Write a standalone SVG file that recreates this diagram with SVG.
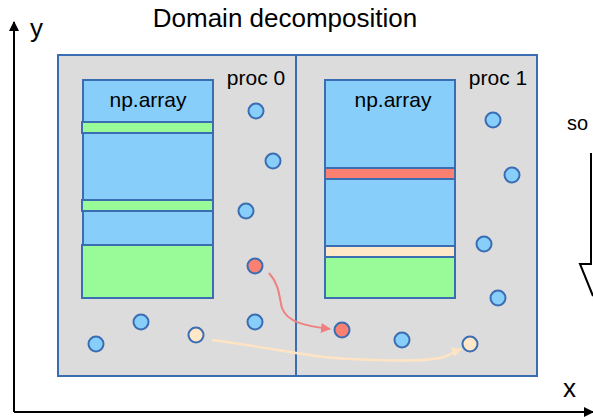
<svg xmlns="http://www.w3.org/2000/svg" width="593" height="417" viewBox="0 0 593 417">
<style>
text{font-family:"Liberation Sans",Arial,sans-serif;fill:#000}
.dom{fill:#dcdcdc;stroke:#3b6db3;stroke-width:2}
.arr{fill:#87cefa;stroke:#3b6db3;stroke-width:2}
.g{fill:#98fb98;stroke:#3b6db3;stroke-width:2}
.r{fill:#fa8072;stroke:#3b6db3;stroke-width:2}
.c{fill:#ffe8c8;stroke:#3b6db3;stroke-width:2}
.p{fill:#87cefa;stroke:#3b6db3;stroke-width:2}
.pr{fill:#fa8072;stroke:#3b6db3;stroke-width:2}
.pc{fill:#ffe8c8;stroke:#3b6db3;stroke-width:2}
.lbl{font-size:21px}
</style>
<defs>
<marker id="ah" markerWidth="10" markerHeight="10" refX="9" refY="5" orient="auto" markerUnits="userSpaceOnUse"><path d="M0,0 L10,5 L0,10 z" fill="#000"/></marker>
<marker id="ahr" markerWidth="10" markerHeight="10" refX="9" refY="5" orient="auto" markerUnits="userSpaceOnUse"><path d="M0,0 L10,5 L0,10 z" fill="#f08080"/></marker>
<marker id="ahc" markerWidth="10" markerHeight="10" refX="9" refY="5" orient="auto" markerUnits="userSpaceOnUse"><path d="M0,0 L10,5 L0,10 z" fill="#ffe4c4"/></marker>
</defs>
<g id="axes">
<line x1="14" y1="412" x2="14" y2="22" stroke="#000" stroke-width="2" marker-end="url(#ah)"/>
<line x1="14" y1="412" x2="593" y2="412" stroke="#000" stroke-width="2" marker-end="url(#ah)"/>
<text x="30" y="37" font-size="26">y</text>
<text x="563" y="397" font-size="26">x</text>
</g>
<text id="title" x="285" y="27" font-size="26" text-anchor="middle">Domain decomposition</text>
<g id="domain">
<rect class="dom" x="58" y="55" width="479" height="321"/>
<line x1="296" y1="55" x2="296" y2="376" stroke="#3b6db3" stroke-width="2"/>
</g>
<g id="proc0">
<text class="lbl" x="256" y="85" text-anchor="middle">proc 0</text>
<rect class="arr" x="83" y="80" width="130" height="218"/>
<text class="lbl" x="148" y="107" text-anchor="middle">np.array</text>
<rect class="g" x="82" y="122" width="131" height="11"/>
<rect class="g" x="82" y="200" width="131" height="11"/>
<rect class="g" x="82" y="245" width="131" height="53"/>
</g>
<g id="proc1">
<text class="lbl" x="498" y="85" text-anchor="middle">proc 1</text>
<rect class="arr" x="325" y="80" width="130" height="218"/>
<text class="lbl" x="393" y="107" text-anchor="middle">np.array</text>
<rect class="r" x="325" y="168" width="130" height="11"/>
<rect class="c" x="325" y="246" width="130" height="11"/>
<rect class="g" x="325" y="257" width="130" height="41"/>
</g>
<g id="particles">
<circle class="p" cx="256" cy="111" r="7.5"/>
<circle class="p" cx="273" cy="161" r="7.5"/>
<circle class="p" cx="246" cy="211" r="7.5"/>
<circle class="pr" cx="255" cy="266" r="7.5"/>
<circle class="p" cx="141" cy="322" r="7.5"/>
<circle class="p" cx="96" cy="344" r="7.5"/>
<circle class="pc" cx="196" cy="335" r="7.5"/>
<circle class="p" cx="255" cy="322" r="7.5"/>
<circle class="p" cx="493" cy="120" r="7.5"/>
<circle class="p" cx="512" cy="175" r="7.5"/>
<circle class="p" cx="484" cy="244" r="7.5"/>
<circle class="p" cx="498" cy="298" r="7.5"/>
<circle class="pr" cx="342" cy="330" r="7.5"/>
<circle class="p" cx="402" cy="340" r="7.5"/>
<circle class="pc" cx="470" cy="344" r="7.5"/>
</g>
<g id="connectors">
<path d="M269,273 C280,285 279,298 282,308 C287,322 305,326 330,329" fill="none" stroke="#f08080" stroke-width="2" marker-end="url(#ahr)"/>
<path d="M212,340 C250,345 275,350 315,356 C360,361 420,362 440,358 C450,356 453,352 461,349" fill="none" stroke="#ffe4c4" stroke-width="2.5" marker-end="url(#ahc)"/>
</g>
<g id="side">
<text x="567" y="130" font-size="20">so</text>
<polyline points="591,153 591,264 580,264 593,296" fill="none" stroke="#000" stroke-width="2"/>
</g>
</svg>
